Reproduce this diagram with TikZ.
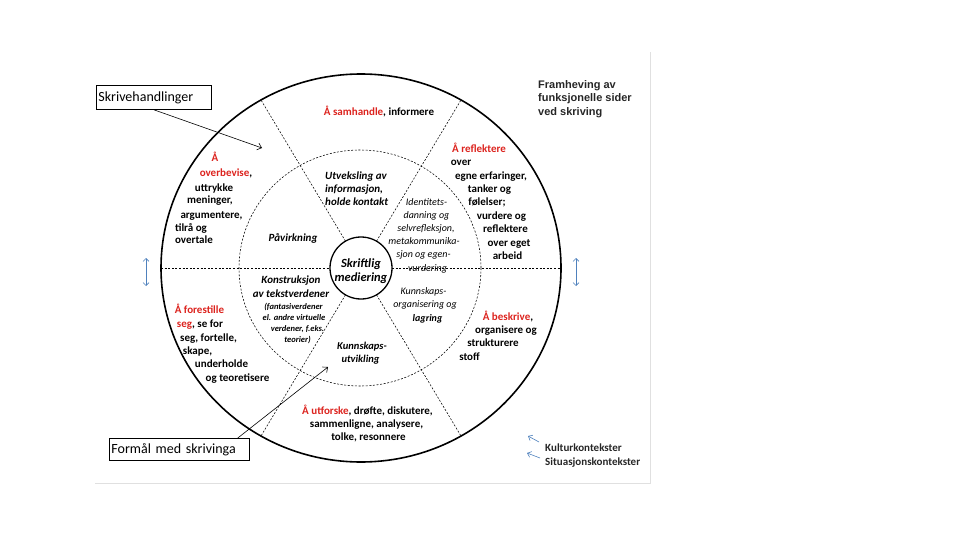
\documentclass[tikz,border=0pt]{standalone}
\usepackage{fontspec}
\setmainfont{Carlito}
\newfontfamily\arialf{Liberation Sans}
\usetikzlibrary{arrows.meta,calc}
\definecolor{myred}{RGB}{220,35,30}
\definecolor{ctxblue}{RGB}{79,129,189}
\newcommand{\rd}[1]{\textcolor{myred}{#1}}
\begin{document}
\begin{tikzpicture}[x=1pt,y=-1pt,
  bt/.style={font=\bfseries\fontsize{11}{13}\selectfont,inner sep=0pt,anchor=base},
  bi/.style={font=\bfseries\itshape\fontsize{11}{13}\selectfont,inner sep=0pt,anchor=base},
  it/.style={font=\itshape\fontsize{10}{12}\selectfont,inner sep=0pt,anchor=base},
  sm/.style={font=\bfseries\itshape\fontsize{8.5}{10}\selectfont,inner sep=0pt,anchor=base},
  ring/.style={line width=0.55pt,dash pattern=on 2pt off 1.6pt},
  lbox/.style={draw,line width=0.8pt,inner xsep=2pt,inner ysep=0pt,align=left,font=\fontsize{14}{16}\selectfont,anchor=north west},
  ptr/.style={line width=0.6pt,-{Straight Barb[length=4pt,width=7pt]}},
  ctx/.style={ctxblue,line width=0.6pt},
  ctxtip/.style={ctx,-{Straight Barb[length=3.5pt,width=6pt]}},
  ctxdbl/.style={ctx,{Straight Barb[length=3pt,width=6pt]}-{Straight Barb[length=3pt,width=6pt]}}
]
\useasboundingbox (0,0) rectangle (960,540);
\draw[black!12,line width=0.8pt] (95,483) -- (650,483) -- (650,52);

% circles
\draw[line width=1.6pt] (361,268) ellipse [x radius=200, y radius=194];
\draw[ring] (360,268) ellipse [x radius=121, y radius=118];
\foreach \a in {60,120,240,300}
  \draw[ring] ({361+31*cos(\a)},{268-31*sin(\a)}) -- ({361+200*cos(\a)},{268-194*sin(\a)});
\draw[ring] (161,268) -- (330,268);
\draw[ring] (392,268) -- (561,268);
\draw[line width=1.3pt,fill=white] (361,268) circle [radius=31];

% centre
\node[bi,font=\bfseries\itshape\fontsize{12.5}{14}\selectfont] (sk1) at (361,267) {Skriftlig};
\node[bi,font=\bfseries\itshape\fontsize{12.5}{14}\selectfont] (sk2) at (361,281) {mediering};

% outer ring texts
\node[bt] (sam) at (379,116) {\rd{Å samhandle}, informere};
\foreach \x/\y/\t [count=\i] in {215/162/{\rd{Å}}, 226/177/{\rd{overbevise},}, 214/191/uttrykke, 210/204/{meninger,}, 211.5/218/{argumentere,}, 191/231/{tilrå og}, 194/243/overtale}
  \node[bt] (ob\i) at (\x,\y) {\t};
\foreach \x/\y/\t [count=\i] in {479/153/{\rd{Å reflektere}}, 461/166/over, 491/179/{egne erfaringer,}, 489.5/192/{tanker og}, 487/205/{følelser;}, 501.5/219/{vurdere og}, 505.5/232/reflektere, 509/246/{over eget}, 507.5/259/arbeid}
  \node[bt] (rf\i) at (\x,\y) {\t};
\foreach \x/\y/\t [count=\i] in {199.5/313/{\rd{Å forestille}}, 200/327/{\rd{seg}, se for}, 208.5/341/{seg, fortelle,}, 197.5/354/{skape,}, 221.5/367/underholde, 237.5/381/{og teoretisere}}
  \node[bt] (fs\i) at (\x,\y) {\t};
\foreach \x/\y/\t [count=\i] in {508/320/{\rd{Å beskrive},}, 506/333/{organisere og}, 493/346/strukturere, 469.5/360/stoff}
  \node[bt] (bs\i) at (\x,\y) {\t};
\foreach \x/\y/\t [count=\i] in {367.5/414/{\rd{Å utforske}, drøfte, diskutere,}, 366.5/427/{sammenligne, analysere,}, 368.5/440/{tolke, resonnere}}
  \node[bt] (uf\i) at (\x,\y) {\t};

% middle ring texts
\foreach \y/\t [count=\i] in {179/{Utveksling av}, 192/{informasjon,}, 205/{holde kontakt}}
  \node[bi,anchor=base west] (ut\i) at (325,\y) {\t};
\node[bi] (pav) at (293,241) {Påvirkning};
\foreach \x/\y/\t [count=\i] in {426.5/205/Identitets-, 426.5/218/{danning og}, 426/231/{selvrefleksjon,}, 424/244/metakommunika-, 423.5/257/{sjon og egen-}, 427.5/271/vurdering}
  \node[it] (id\i) at (\x,\y) {\t};
\node[bi] (ko1) at (291,283) {Konstruksjon};
\node[bi] (ko2) at (291,297) {av tekstverdener};
\foreach \x/\y/\t [count=\i] in {293.5/309/{(fantasiverdener}, 294/320/{el. andre virtuelle}, 297.5/331/{verdener, f.eks.}, 297.5/342/{teorier)}}
  \node[sm] (kv\i) at (\x,\y) {\t};
\node[it] (kor1) at (423.5,294) {Kunnskaps-};
\node[it] (kor2) at (425,307) {organisering og};
\node[it,font=\bfseries\itshape\fontsize{10}{12}\selectfont] (kor3) at (427.5,321) {lagring};
\node[bi,font=\bfseries\itshape\fontsize{10.5}{13}\selectfont] (kut1) at (362,349) {Kunnskaps-};
\node[bi,font=\bfseries\itshape\fontsize{10.5}{13}\selectfont] (kut2) at (360.5,362) {utvikling};

% heading
\foreach \y/\t [count=\i] in {89/{Framheving av}, 102/{funksjonelle sider}, 116/{ved skriving}}
  \node[inner sep=0pt,anchor=base west,text=black!85,font=\arialf\bfseries\fontsize{11}{13}\selectfont] (fr\i) at (538,\y) {\t};

% label boxes and pointers
\node[lbox,text width=111pt,minimum height=24pt] (skr) at (96,85) {Skrivehandlinger};
\coordinate (skrtip) at (262,148);
\draw[ptr] (skr.south) -- (skrtip);
\node[lbox,text width=136pt,minimum height=22pt] (frm) at (109,438) {Formål med skrivinga};
\coordinate (frmtip) at (328,367);
\draw[ptr] ($(frm.north east)+(-12,0)$) -- (frmtip);

% blue double arrows
\coordinate (la1) at (146,258); \coordinate (la2) at (146,286);
\coordinate (ra1) at (576,258); \coordinate (ra2) at (576,286);
\draw[ctxdbl] (la1) -- (la2);
\draw[ctxdbl] (ra1) -- (ra2);

% legend
\coordinate (k1s) at (539,442); \coordinate (k1e) at (528,436);
\coordinate (k2s) at (540,458); \coordinate (k2e) at (527,453);
\draw[ctxtip] (k1s) -- (k1e);
\draw[ctxtip] (k2s) -- (k2e);
\node[bt,anchor=base west,text=black!85] (leg1) at (545,451) {Kulturkontekster};
\node[bt,anchor=base west,text=black!85] (leg2) at (545,465) {Situasjonskontekster};
\end{tikzpicture}
\end{document}
